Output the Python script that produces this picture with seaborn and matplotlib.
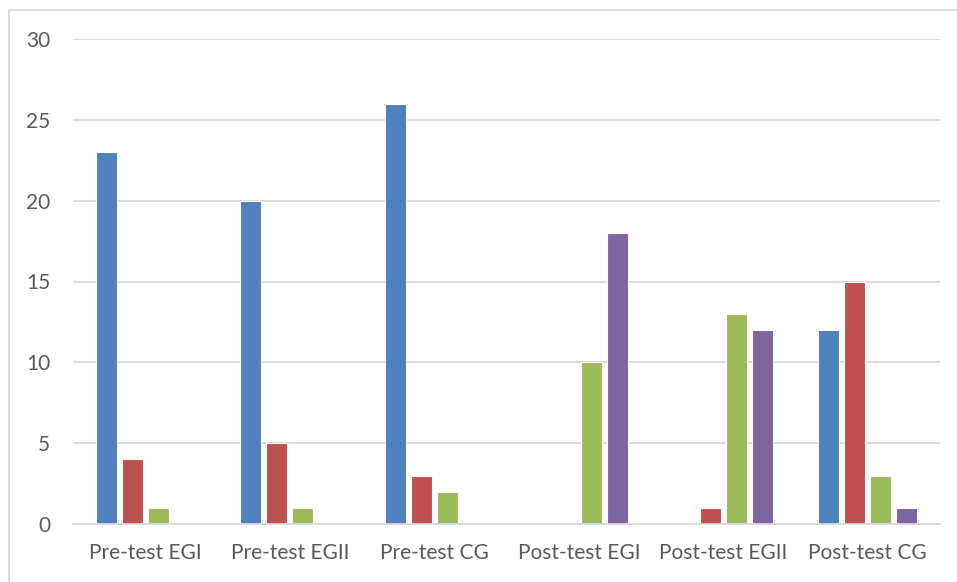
import matplotlib
matplotlib.use("Agg")
import matplotlib.pyplot as plt
import seaborn as sns
import pandas as pd
from matplotlib.lines import Line2D

groups = ["Pre-test EGI", "Pre-test EGII", "Pre-test CG",
          "Post-test EGI", "Post-test EGII", "Post-test CG"]
series_names = ["Series 1", "Series 2", "Series 3", "Series 4"]
series1 = [23, 20, 26, 0, 0, 12]
series2 = [4, 5, 3, 0, 1, 15]
series3 = [1, 1, 2, 10, 13, 3]
series4 = [0, 0, 0, 18, 12, 1]
colors = ["#4F81BD", "#C0504D", "#9BBB59", "#8064A2"]
yticks = [0, 5, 10, 15, 20, 25, 30]

rows = []
for name, vals in zip(series_names, [series1, series2, series3, series4]):
    for g, v in zip(groups, vals):
        rows.append({"group": g, "series": name, "value": v})
df = pd.DataFrame(rows)

sns.set_theme(style="white")
plt.rcParams["font.family"] = ["Lato", "DejaVu Sans"]

fig = plt.figure(figsize=(9.57, 5.82), dpi=100)
ax = fig.add_axes([73 / 957, 58 / 582, (940 - 73) / 957, (524 - 39) / 582])

sns.barplot(data=df, x="group", y="value", hue="series", order=groups,
            hue_order=series_names, palette=colors, saturation=1,
            width=0.72, gap=0.18, edgecolor="white", linewidth=0.8,
            legend=False, ax=ax)

ax.set_ylim(0, 30)
ax.set_xlim(-0.5, len(groups) - 0.5)
ax.set_yticks(yticks)
ax.yaxis.grid(True, color="#D9D9D9", linewidth=1.3)
ax.set_axisbelow(True)
for side in ["top", "right", "left"]:
    ax.spines[side].set_visible(False)
ax.spines["bottom"].set_color("#D9D9D9")
ax.spines["bottom"].set_linewidth(1.3)
ax.set_xlabel("")
ax.set_ylabel("")
ax.tick_params(axis="y", length=0, pad=16.5, labelsize=15, labelcolor="#595959")
ax.tick_params(axis="x", length=0, pad=14, labelsize=15, labelcolor="#595959")

# chart area frame
fig.add_artist(Line2D([8.5 / 957, 1.0], [1 - 9.5 / 582, 1 - 9.5 / 582],
                      color="#D9D9D9", linewidth=1.3, transform=fig.transFigure))
fig.add_artist(Line2D([8.5 / 957, 8.5 / 957], [0.0, 1 - 9.5 / 582],
                      color="#D9D9D9", linewidth=1.3, transform=fig.transFigure))

fig.savefig("out.png", dpi=100)
